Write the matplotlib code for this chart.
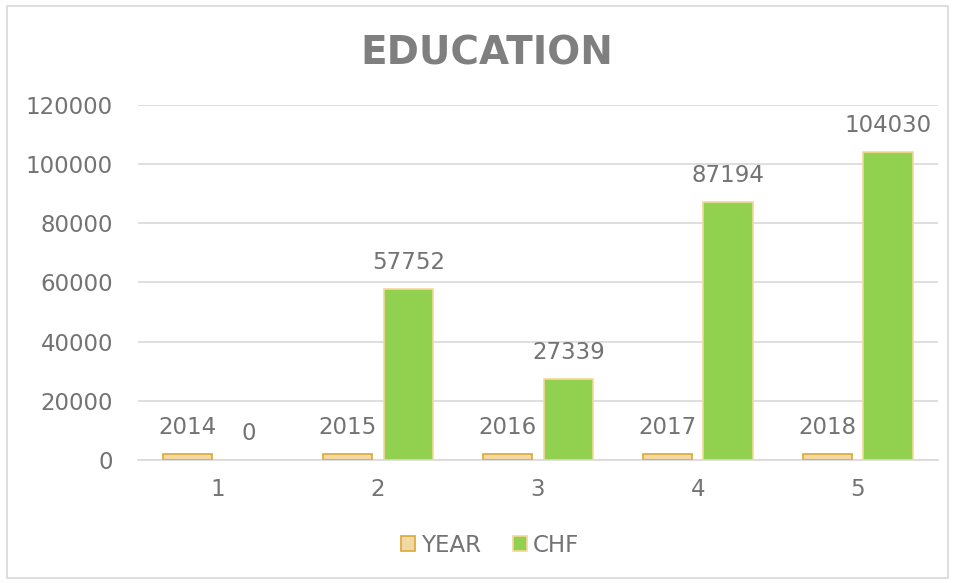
import matplotlib
matplotlib.use("Agg")
import matplotlib.pyplot as plt
import numpy as np
from matplotlib.patches import Rectangle

categories = ["1", "2", "3", "4", "5"]
year_values = [2014, 2015, 2016, 2017, 2018]
chf_values = [0, 57752, 27339, 87194, 104030]
y_ticks = [0, 20000, 40000, 60000, 80000, 100000, 120000]

plt.rcParams['font.family'] = ['DejaVu Sans']
txt = '#737373'
fs = 16.5

fig = plt.figure(figsize=(9.55, 5.83), dpi=100)
fig.patches.append(Rectangle((0.007, 0.008), 0.986, 0.982, transform=fig.transFigure,
                             fill=False, edgecolor='#D9D9D9', linewidth=1.2))
ax = fig.add_axes([0.1445, 0.211, 0.8375, 0.609])

x = np.arange(len(categories))
w = 0.31
off = 0.19
b1 = ax.bar(x - off, year_values, w, color='#F2D9A3', edgecolor='#D9A83A', linewidth=1.2, label='YEAR', zorder=3)
b2 = ax.bar(x + off, chf_values, w, color='#92D050', edgecolor='#F5D79A', linewidth=1.2, label='CHF', zorder=3)
ax.bar_label(b1, labels=[str(v) for v in year_values], padding=11, fontsize=fs, color=txt)
ax.bar_label(b2, labels=[str(v) for v in chf_values], padding=11, fontsize=fs, color=txt)

ax.set_xlim(-0.5, len(categories) - 0.5)
ax.set_ylim(0, 120000)
ax.set_yticks(y_ticks)
ax.set_yticklabels([str(v) for v in y_ticks])
ax.set_xticks(x)
ax.set_xticklabels(categories)
ax.tick_params(axis='both', length=0, labelsize=fs, colors=txt)
ax.tick_params(axis='y', pad=18)
ax.tick_params(axis='x', pad=13)
ax.grid(axis='y', color='#D9D9D9', linewidth=1.2, zorder=0)
for s in ['top', 'right', 'left']:
    ax.spines[s].set_visible(False)
ax.spines['bottom'].set_color('#D9D9D9')
ax.spines['bottom'].set_linewidth(1.2)

fig.text(0.51, 0.908, 'EDUCATION', ha='center', va='center', fontsize=28, fontweight='bold', color='#7F7F7F')

leg = fig.legend(handles=[b1, b2], labels=['YEAR', 'CHF'], loc='center', bbox_to_anchor=(0.513, 0.065),
                 ncol=2, frameon=False, fontsize=fs, handlelength=0.6, handleheight=0.6,
                 handletextpad=0.25, columnspacing=1.4)
for t in leg.get_texts():
    t.set_color(txt)

fig.savefig('out.png', dpi=100)
